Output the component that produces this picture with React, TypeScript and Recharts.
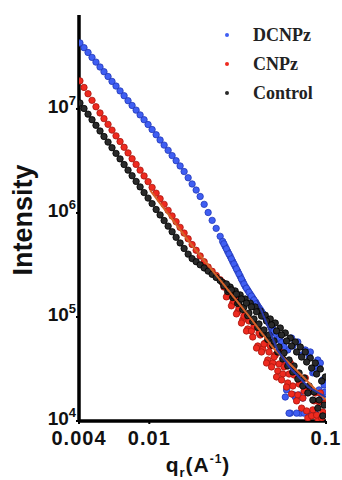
import { ComposedChart, Scatter, XAxis, YAxis } from "recharts";

// q grid (Å^-1), read along the x axis
const Q = [
  0.00405, 0.00427, 0.0045, 0.00474, 0.00499, 0.00526, 0.00554, 0.00584, 0.00615, 0.00648,
  0.00683, 0.0072, 0.00758, 0.00799, 0.00842, 0.00887, 0.00934, 0.00984, 0.01037, 0.01093,
  0.01151, 0.01213, 0.01278, 0.01346, 0.01418, 0.01494, 0.01574, 0.01659, 0.01747, 0.01841,
  0.0194, 0.02044, 0.02153, 0.02268, 0.0239, 0.02518,
  0.026, 0.02687, 0.02776, 0.02869, 0.02964, 0.03062, 0.03164, 0.03269, 0.03378, 0.0349,
  0.03606, 0.03725, 0.03849, 0.03977, 0.04109, 0.04245, 0.04386, 0.04531, 0.04682, 0.04837,
  0.04998, 0.05163, 0.05335, 0.05512, 0.05694, 0.05883, 0.06078, 0.0628, 0.06488, 0.06703,
  0.06926, 0.07155, 0.07393, 0.07638, 0.07891, 0.08153, 0.08423, 0.08702, 0.08991, 0.09289,
  0.09597, 0.0991,
];

const DCNPZ = [
  4.31e7, 3.88e7, 3.49e7, 3.13e7, 2.82e7, 2.53e7, 2.28e7, 2.05e7, 1.84e7, 1.66e7,
  1.49e7, 1.34e7, 1.2e7, 1.08e7, 9.74e6, 8.76e6, 7.88e6, 7.08e6, 6.34e6, 5.65e6,
  5.03e6, 4.49e6, 4.0e6, 3.56e6, 3.18e6, 2.83e6, 2.5e6, 2.18e6, 1.9e6, 1.66e6,
  1.44e6, 1.21e6, 1.01e6, 8.49e5, 7.11e5, 5.96e5,
  5.33e5, 4.77e5, 4.27e5, 3.83e5, 3.42e5, 3.07e5, 2.75e5, 2.46e5, 2.2e5, 1.97e5,
  1.81e5, 1.66e5, 1.52e5, 1.4e5, 1.28e5, 1.18e5, 1.08e5, 9.91e4, 9.09e4, 8.34e4,
  7.67e4, 7.03e4, 6.45e4, 5.92e4, 5.44e4,
  1.7e4, 4.82e4, 1.19e4, 5.26e4, 1.7e4, 5.75e4, 1.19e4, 1.66e4, 4.82e4, 1.19e4,
  4.61e4, 2.9e4, 1.19e4, 3.86e4, 3.61e4, 2.48e4, 1.9e4,
];

const CNPZ = [
  1.86e7, 1.61e7, 1.4e7, 1.21e7, 1.05e7, 9.15e6, 8.07e6, 7.11e6, 6.26e6, 5.51e6,
  4.86e6, 4.28e6, 3.78e6, 3.32e6, 2.93e6, 2.58e6, 2.27e6, 2.0e6, 1.76e6, 1.55e6,
  1.37e6, 1.21e6, 1.06e6, 9.36e5, 8.25e5, 7.27e5, 6.41e5, 5.65e5, 4.97e5, 4.38e5,
  3.86e5, 3.4e5, 3.02e5, 2.75e5, 2.51e5, 2.28e5,
  2.15e5, 1.99e5, 1.63e5, 1.82e5, 1.36e5, 1.52e5, 1.12e5, 1.25e5, 9.36e4, 1.07e5,
  7.67e4, 9.36e4, 6.42e4, 8.01e4, 5.26e4, 6.71e4, 4.92e4, 5.62e4, 3.86e4, 5.26e4,
  3.61e4, 4.31e4, 3.03e4, 4.61e4, 2.83e4, 3.53e4, 2.32e4, 3.61e4, 2.17e4, 2.9e4,
  1.78e4, 2.48e4, 1.66e4, 2.59e4, 1.07e4, 1.99e4, 1.28e4, 1.86e4, 1.05e4, 1.86e4,
  1.22e4, 1.49e4,
];

const CONTROL = [
  1.14e7, 1.01e7, 8.91e6, 7.88e6, 6.96e6, 6.14e6, 5.43e6, 4.8e6, 4.24e6, 3.74e6,
  3.31e6, 2.92e6, 2.58e6, 2.28e6, 2.01e6, 1.78e6, 1.57e6, 1.39e6, 1.23e6, 1.08e6,
  9.57e5, 8.45e5, 7.47e5, 6.6e5, 5.83e5, 5.15e5, 4.55e5, 4.02e5, 3.64e5, 3.4e5,
  3.17e5, 2.96e5, 2.76e5, 2.57e5, 2.4e5, 2.24e5,
  2.14e5, 2.03e5, 1.76e5, 1.94e5, 1.54e5, 1.78e5, 1.35e5, 1.63e5, 1.18e5, 1.49e5,
  1.03e5, 1.36e5, 9.05e4, 1.25e5, 7.93e4, 1.14e5, 6.94e4, 1.04e5, 6.08e4, 9.57e4,
  5.32e4, 8.75e4, 4.61e4, 7.84e4, 3.95e4, 7.02e4, 3.38e4, 6.28e4, 2.96e4, 5.75e4,
  2.53e4, 5.15e4, 2.17e4, 4.61e4, 1.86e4, 4.03e4, 1.59e4, 3.61e4, 1.33e4, 3.16e4,
  1.12e4, 2.65e4,
];

// extra high-q points in between, where the data get noisy
const Q_HI = [
  0.02643, 0.02731, 0.02822, 0.02915, 0.03012, 0.03112, 0.03215, 0.03322, 0.03432, 0.03546,
  0.03664, 0.03786, 0.03912, 0.04042, 0.04176, 0.04315, 0.04458, 0.04606, 0.04759, 0.04917,
  0.0508, 0.05249, 0.05423, 0.05603, 0.05789, 0.05981, 0.0618, 0.06385, 0.06597, 0.06816,
  0.07042, 0.07276, 0.07517, 0.07767, 0.08025, 0.08291, 0.08566, 0.0885, 0.09144, 0.09448,
  0.09762,
];

const DCNPZ_HI = [
  5.05e5, 4.52e5, 4.04e5, 3.62e5, 3.24e5, 2.9e5, 2.6e5, 2.32e5, 2.08e5, 1.89e5,
  1.73e5, 1.59e5, 1.46e5, 1.34e5, 1.23e5, 1.13e5, 1.03e5, 9.5e4, 8.72e4, 8.0e4,
  7.33e4, 6.73e4, 6.18e4, 5.67e4, 5.2e4,
  1.99e4, 1.19e4, 6.28e4, 1.78e4, 1.19e4, 1.78e4, 4.31e4, 1.19e4, 1.99e4, 4.12e4,
  1.19e4, 2.96e4, 3.38e4, 1.99e4, 1.66e4, 2.22e4,
];

const CNPZ_HI = [
  1.94e5, 1.56e5, 1.74e5, 1.28e5, 1.42e5, 1.07e5, 1.22e5, 8.75e4, 1.02e5, 7.33e4,
  9.15e4, 7.33e4, 8.19e4, 5.03e4, 7.02e4, 4.61e4, 5.5e4, 3.61e4, 4.61e4, 3.31e4,
  4.12e4, 2.65e4, 3.53e4, 2.48e4, 3.31e4, 2.12e4, 2.83e4, 1.82e4, 2.77e4, 1.56e4,
  2.27e4, 1.33e4, 1.94e4, 1.25e4, 1.9e4, 1.12e4, 1.56e4, 1.14e4, 1.52e4, 1.07e4,
  1.46e4,
];

const CONTROL_HI = [
  1.99e5, 2.08e5, 1.82e5, 1.82e5, 1.59e5, 1.66e5, 1.39e5, 1.49e5, 1.25e5, 1.36e5,
  1.09e5, 1.25e5, 9.57e4, 1.12e5, 8.56e4, 1.02e5, 7.5e4, 9.15e4, 6.71e4, 8.38e4,
  5.88e4, 7.33e4, 5.15e4, 6.71e4, 4.51e4, 5.88e4, 3.86e4, 5.26e4, 3.38e4, 4.61e4,
  2.9e4, 4.12e4, 2.59e4, 3.69e4, 2.17e4, 3.23e4, 1.9e4, 2.83e4, 1.59e4, 2.42e4,
  1.42e4,
];

// fitted curves drawn over the data
const FIT_CNPZ_Q = [0.0101, 0.017, 0.0262, 0.0373, 0.0503, 0.0715, 0.1];
const FIT_CNPZ_I = [1.66e6, 5.15e5, 2.08e5, 9.78e4, 5.03e4, 2.83e4, 1.59e4];
const FIT_DCNPZ_Q = [0.0408, 0.0465, 0.053, 0.0628, 0.0794, 0.1];
const FIT_DCNPZ_I = [1.46e5, 8.38e4, 4.82e4, 3.23e4, 2.12e4, 1.7e4];

const X_TICKS = [0.004, 0.01, 0.1];
const Y_TICKS = [1e4, 1e5, 1e6, 1e7];

const SERIES = [
  { name: "DCNPz", values: DCNPZ, hi: DCNPZ_HI, fill: "#3f5ef2", stroke: "#2238b8" },
  { name: "CNPz", values: CNPZ, hi: CNPZ_HI, fill: "#ee2a1f", stroke: "#a8160f" },
  { name: "Control", values: CONTROL, hi: CONTROL_HI, fill: "#2a2a2a", stroke: "#000000" },
];

const SANS = "'Liberation Sans', Arial, sans-serif";
const SERIF = "'Liberation Serif', 'Times New Roman', serif";

const toPoints = (qs: number[], vals: number[]) =>
  qs.map((q, i) => ({ q, i: vals[i] }));

const dot = (fill: string, stroke: string) => (p: any) =>
  <circle cx={p.cx} cy={p.cy} r={3.2} fill={fill} stroke={stroke} strokeWidth={0.8} />;

function XTick({ x, y, payload }: any) {
  return (
    <text x={x} y={y + 21} textAnchor="middle" fontFamily={SANS} fontWeight="bold" fontSize={20} letterSpacing={1} fill="#111">
      {String(payload.value)}
    </text>
  );
}

function YTick({ x, y, payload }: any) {
  const exp = Math.round(Math.log10(payload.value));
  return (
    <text x={x} y={y + 4} textAnchor="end" fontFamily={SANS} fontWeight="bold" fontSize={19} fill="#111">
      10
      <tspan dy={-8} fontSize={13}>{exp}</tspan>
    </text>
  );
}

function YTitle() {
  return (
    <text x={32} y={220} transform="rotate(-90 32 220)" textAnchor="middle" fontFamily={SANS} fontWeight="bold" fontSize={27} fill="#111">
      Intensity
    </text>
  );
}

function XTitle() {
  return (
    <text x={198} y={472} textAnchor="middle" fontFamily={SANS} fontWeight="bold" fontSize={21} letterSpacing={1} fill="#111">
      q
      <tspan dy={5} fontSize={13}>r</tspan>
      <tspan dy={-5}>(A</tspan>
      <tspan dy={-9} fontSize={12}>-1</tspan>
      <tspan dy={9}>)</tspan>
    </text>
  );
}

export default function App() {
  return (
    <div style={{ position: "fixed", top: 0, left: 0, width: 342, height: 480, background: "#fff" }}>
      <ComposedChart width={342} height={480} margin={{ top: 15, right: 16, bottom: 0, left: 0 }}>
        <XAxis
          xAxisId="b"
          dataKey="q"
          type="number"
          scale="log"
          domain={[0.004, 0.1]}
          ticks={X_TICKS}
          allowDataOverflow
          height={59}
          tickSize={3}
          tickMargin={0}
          tick={<XTick />}
          tickLine={{ stroke: "#000", strokeWidth: 2 }}
          axisLine={{ stroke: "#000", strokeWidth: 3.5 }}
          label={<XTitle />}
        />
        <XAxis
          xAxisId="t"
          orientation="top"
          type="number"
          scale="log"
          domain={[0.004, 0.1]}
          ticks={X_TICKS}
          allowDataOverflow
          height={0}
          mirror
          tick={false}
          tickSize={3}
          tickLine={{ stroke: "#000", strokeWidth: 2 }}
          axisLine={{ stroke: "#000", strokeWidth: 2.5 }}
        />
        <YAxis
          yAxisId="l"
          dataKey="i"
          type="number"
          scale="log"
          domain={[1e4, 8e7]}
          ticks={Y_TICKS}
          allowDataOverflow
          width={79}
          tickSize={3}
          tickMargin={0}
          tick={<YTick />}
          tickLine={{ stroke: "#000", strokeWidth: 2 }}
          axisLine={{ stroke: "#000", strokeWidth: 3.5 }}
          label={<YTitle />}
        />
        <YAxis
          yAxisId="r"
          orientation="right"
          type="number"
          scale="log"
          domain={[1e4, 8e7]}
          ticks={Y_TICKS}
          allowDataOverflow
          width={0}
          mirror
          tick={false}
          tickSize={3}
          tickLine={{ stroke: "#000", strokeWidth: 2 }}
          axisLine={{ stroke: "#000", strokeWidth: 2.5 }}
        />
        {SERIES.map((s) => (
          <Scatter
            key={s.name}
            name={s.name}
            xAxisId="b"
            yAxisId="l"
            data={[...toPoints(Q, s.values), ...toPoints(Q_HI, s.hi)]}
            shape={dot(s.fill, s.stroke)}
            isAnimationActive={false}
          />
        ))}
        <Scatter
          xAxisId="b"
          yAxisId="l"
          data={toPoints(FIT_CNPZ_Q, FIT_CNPZ_I)}
          line={{ stroke: "#d4622a", strokeWidth: 2 }}
          shape={() => <g />}
          isAnimationActive={false}
        />
        <Scatter
          xAxisId="b"
          yAxisId="l"
          data={toPoints(FIT_DCNPZ_Q, FIT_DCNPZ_I)}
          line={{ stroke: "#2838a8", strokeWidth: 2 }}
          shape={() => <g />}
          isAnimationActive={false}
        />
      </ComposedChart>

      {/* legend */}
      {SERIES.map((s, k) => (
        <div
          key={s.name}
          style={{
            position: "absolute",
            left: 225,
            top: 24 + k * 29,
            height: 22,
            display: "flex",
            alignItems: "center",
            fontFamily: SERIF,
            fontWeight: "bold",
            fontSize: 18,
            color: "#222",
          }}
        >
          <span style={{ width: 4, height: 4, borderRadius: 2, background: s.fill, marginRight: 24 }} />
          {s.name}
        </div>
      ))}
    </div>
  );
}
